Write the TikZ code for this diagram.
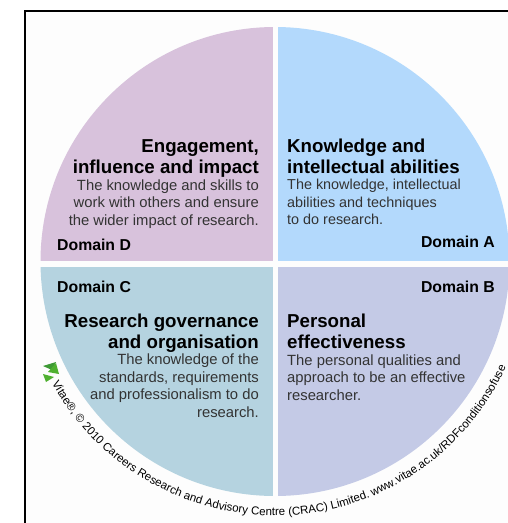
\documentclass[tikz,border=0pt]{standalone}
\usepackage{fontspec}
\setmainfont{Liberation Sans}
\usetikzlibrary{decorations.text}
\definecolor{domD}{HTML}{D8C2DC}
\definecolor{domA}{HTML}{B3D9FC}
\definecolor{domB}{HTML}{C4CAE6}
\definecolor{domC}{HTML}{B5D3E0}
\definecolor{paper}{HTML}{FDFDFD}
\definecolor{bodyink}{HTML}{333333}
\definecolor{vitaeA}{HTML}{4FB030}
\definecolor{vitaeB}{HTML}{3E9A35}
\tikzset{
  titletxt/.style={inner sep=0pt,font=\fontsize{18.7}{20.3}\selectfont\bfseries,text=black},
  bodytxt/.style={inner sep=0pt,font=\fontsize{14.8}{17.4}\selectfont,text=bodyink},
  domaintxt/.style={inner sep=0pt,font=\fontsize{15.8}{17}\selectfont\bfseries,text=black},
}
\begin{document}
\begin{tikzpicture}[x=1pt,y=-1pt]
\useasboundingbox (0,0) rectangle (508,523);
\fill[paper] (25,11) rectangle (508,523);
\draw[line width=1.8pt,black] (25,523) -- (25,11) -- (508,11);
\begin{scope}
  \clip (275,261.5) circle[radius=234.5];
  \fill[domD] (30,20) rectangle (272.5,261);
  \fill[domA] (278,20) rectangle (508,261);
  \fill[domC] (30,267) rectangle (272.5,500);
  \fill[domB] (278,267) rectangle (508,500);
\end{scope}
% Domain D
\node[titletxt,align=right,anchor=base east] (dT) at (259,173) {Engagement,\\influence and impact};
\node[bodytxt,align=right,anchor=base east] (dB) at (259,225) {The knowledge and skills to\\work with others and ensure\\the wider impact of research.};
\node[domaintxt,anchor=base west] (dD) at (57,250) {Domain D};
% Domain A
\node[titletxt,align=left,anchor=base west] (aT) at (287,173) {Knowledge and\\intellectual abilities};
\node[bodytxt,align=left,anchor=base west,font=\fontsize{14.4}{17.4}\selectfont] (aB) at (287,224.5) {The knowledge, intellectual\\abilities and techniques\\to do research.};
\node[domaintxt,anchor=base east] (aD) at (495,247) {Domain A};
% Domain B
\node[domaintxt,anchor=base east] (bD) at (495,292) {Domain B};
\node[titletxt,align=left,anchor=base west] (bT) at (287,348) {Personal\\effectiveness};
\node[bodytxt,align=left,anchor=base west] (bB) at (287,400) {The personal qualities and\\approach to be an effective\\researcher.};
% Domain C
\node[domaintxt,anchor=base west] (cD) at (57,292) {Domain C};
\node[titletxt,align=right,anchor=base east] (cT) at (259,348) {Research governance\\and organisation};
\node[bodytxt,align=right,anchor=base east] (cB) at (259,417) {The knowledge of the\\standards, requirements\\and professionalism to do\\research.};
% Logo
\fill[vitaeB] (43,366) -- (56,362) -- (52,370) -- cycle;
\fill[vitaeA] (48,372) -- (56,363) -- (59,374) -- cycle;
\fill[vitaeA] (43,374) -- (54,377) -- (46,382) -- cycle;
% Copyright text on arc
\path[decorate,decoration={text along path,text align=center,
  text={|\fontsize{11.5}{12}\selectfont|Vitae®, © 2010 Careers Research and Advisory Centre (CRAC) Limited. www.vitae.ac.uk/RDFconditionsofuse}}]
  (275,261.5) ++(158:254) arc[start angle=158,end angle=18,radius=254];
\end{tikzpicture}
\end{document}
